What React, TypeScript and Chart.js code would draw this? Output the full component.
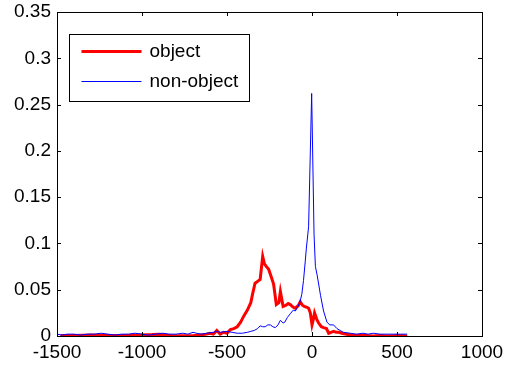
import React, { useEffect, useRef } from "react";
import { Chart, registerables } from "chart.js";

Chart.register(...registerables);

// ---- data ----
const objectX = [
  -1480, -1400, -1300, -1200, -1100, -1000, -940, -900, -860, -820, -760, -700,
  -660, -620, -600, -580, -560, -540, -520, -500, -480, -460, -440, -420, -400,
  -380, -360, -350, -335, -320, -305, -290, -280, -268, -255, -240, -226, -210,
  -195, -186, -170, -155, -140, -128, -110, -98, -80, -69, -55, -45, -30, -20,
  -10, 0, 8, 15, 28, 39, 55, 68, 85, 98, 112, 127, 142, 157, 176, 196, 230, 270,
  320, 360, 400, 450, 500, 560,
];
const objectY = [
  0.0005, 0.0005, 0.001, 0.0005, 0.0005, 0.001, 0.0015, 0.002, 0.001, 0.0003,
  0.0002, 0.0003, 0.001, 0.002, 0.003, 0.002, 0.006, 0.002, 0.004, 0.003, 0.007,
  0.008, 0.010, 0.015, 0.022, 0.028, 0.036, 0.045, 0.057, 0.059, 0.061, 0.086,
  0.078, 0.075, 0.072, 0.064, 0.056, 0.034, 0.036, 0.048, 0.032, 0.033, 0.035,
  0.034, 0.031, 0.030, 0.033, 0.037, 0.033, 0.032, 0.031, 0.030, 0.025, 0.012,
  0.018, 0.025, 0.018, 0.014, 0.010, 0.009, 0.008, 0.003, 0.004, 0.005, 0.004,
  0.004, 0.003, 0.002, 0.001, 0.0005, 0.0005, 0.0, 0.0005, 0.0, 0.0005, 0.0,
];

const nonObjectX = [
  -1500, -1470, -1440, -1400, -1360, -1320, -1280, -1240, -1200, -1160, -1120,
  -1080, -1040, -1000, -960, -920, -880, -840, -800, -760, -730, -700, -680,
  -650, -620, -580, -560, -540, -500, -470, -440, -410, -380, -360, -340, -320,
  -305, -290, -275, -260, -245, -230, -216, -200, -186, -170, -160, -145, -128,
  -110, -98, -85, -72, -60, -50, -40, -33, -20, -2, 12, 20, 30, 50, 68, 88, 104,
  127, 147, 165, 185, 225, 260, 300, 330, 360, 400, 440, 480, 520, 560,
];
const nonObjectY = [
  0.002, 0.001, 0.002, 0.002, 0.001, 0.002, 0.002, 0.003, 0.002, 0.001, 0.002,
  0.002, 0.003, 0.002, 0.001, 0.002, 0.003, 0.002, 0.002, 0.003, 0.002, 0.004,
  0.003, 0.002, 0.003, 0.004, 0.005, 0.004, 0.005, 0.004, 0.003, 0.003, 0.004,
  0.005, 0.006, 0.008, 0.011, 0.010, 0.010, 0.012, 0.012, 0.010, 0.009, 0.012,
  0.017, 0.014, 0.015, 0.020, 0.024, 0.028, 0.027, 0.031, 0.036, 0.045, 0.060,
  0.080, 0.095, 0.118, 0.262, 0.110, 0.075, 0.066, 0.044, 0.027, 0.015, 0.012,
  0.012, 0.008, 0.006, 0.004, 0.003, 0.002, 0.003, 0.002, 0.003, 0.002, 0.002,
  0.002, 0.002, 0.002,
];

const seriesNames = ["object", "non-object"];
const xTicks = [-1500, -1000, -500, 0, 500, 1000];
const yTicks = [0, 0.05, 0.1, 0.15, 0.2, 0.25, 0.3, 0.35];

const FONT = "'Liberation Sans', Arial, Helvetica, sans-serif";

const framePlugin = {
  id: "frameAndLegend",
  afterDraw(chart: any) {
    const { ctx, chartArea, scales } = chart;
    const { left, right, top, bottom } = chartArea;
    ctx.save();
    ctx.strokeStyle = "#000";
    ctx.lineWidth = 1;
    ctx.strokeRect(Math.round(left) + 0.5, Math.round(top) + 0.5, Math.round(right - left), Math.round(bottom - top));
    const tl = 4;
    ctx.beginPath();
    for (const v of xTicks) {
      const px = Math.round(scales.x.getPixelForValue(v)) + 0.5;
      ctx.moveTo(px, bottom);
      ctx.lineTo(px, bottom - tl);
      ctx.moveTo(px, top);
      ctx.lineTo(px, top + tl);
    }
    for (const v of yTicks) {
      const py = Math.round(scales.y.getPixelForValue(v)) + 0.5;
      ctx.moveTo(left, py);
      ctx.lineTo(left + tl, py);
      ctx.moveTo(right, py);
      ctx.lineTo(right - tl, py);
    }
    ctx.stroke();

    // legend
    const bx = Math.round(left) + 12.5;
    const by = Math.round(top) + 22.5;
    const bw = 180;
    const bh = 67;
    ctx.fillStyle = "#fff";
    ctx.fillRect(bx, by, bw, bh);
    ctx.strokeStyle = "#000";
    ctx.lineWidth = 1;
    ctx.strokeRect(bx, by, bw, bh);
    const ds = chart.data.datasets;
    const rows = [by + 17, by + 47];
    ctx.font = `19px ${FONT}`;
    ctx.textBaseline = "middle";
    ctx.textAlign = "left";
    rows.forEach((ry: number, i: number) => {
      ctx.beginPath();
      ctx.strokeStyle = ds[i].borderColor;
      ctx.lineWidth = ds[i].borderWidth;
      ctx.moveTo(bx + 12, ry);
      ctx.lineTo(bx + 72, ry);
      ctx.stroke();
      ctx.fillStyle = "#000";
      ctx.fillText(ds[i].label, bx + 80, ry);
    });
    ctx.restore();
  },
};

export default function App() {
  const ref = useRef<HTMLCanvasElement>(null);
  useEffect(() => {
    if (!ref.current) return;
    const chart = new Chart(ref.current, {
      type: "line",
      data: {
        datasets: [
          {
            label: seriesNames[0],
            data: objectX.map((x, i) => ({ x, y: objectY[i] })),
            borderColor: "#ff0000",
            borderWidth: 3,
            pointRadius: 0,
            tension: 0,
            order: 1,
          },
          {
            label: seriesNames[1],
            data: nonObjectX.map((x, i) => ({ x, y: nonObjectY[i] })),
            borderColor: "#0000ff",
            borderWidth: 1,
            pointRadius: 0,
            tension: 0,
            order: 0,
          },
        ],
      },
      options: {
        responsive: false,
        animation: false,
        layout: { padding: { top: 12, right: 30, left: 0, bottom: 0 } },
        plugins: { legend: { display: false }, tooltip: { enabled: false } },
        scales: {
          x: {
            type: "linear",
            min: -1500,
            max: 1000,
            afterBuildTicks: (s: any) => {
              s.ticks = xTicks.map((v) => ({ value: v }));
            },
            afterFit: (s: any) => {
              s.height = 31;
              s.paddingLeft = 0;
              s.paddingRight = 0;
              s.paddingTop = 0;
              s.paddingBottom = 0;
            },
            grid: { display: false, drawTicks: false },
            border: { display: false },
            ticks: {
              color: "#000",
              padding: 5,
              maxRotation: 0,
              autoSkip: false,
              font: { family: FONT, size: 19 },
              callback: (v: any) => String(v),
            },
          },
          y: {
            type: "linear",
            min: 0,
            max: 0.35,
            afterBuildTicks: (s: any) => {
              s.ticks = yTicks.map((v) => ({ value: v }));
            },
            afterFit: (s: any) => {
              s.width = 57;
              s.paddingLeft = 0;
              s.paddingRight = 0;
              s.paddingTop = 0;
              s.paddingBottom = 0;
            },
            grid: { display: false, drawTicks: false },
            border: { display: false },
            ticks: {
              color: "#000",
              padding: 6,
              autoSkip: false,
              font: { family: FONT, size: 19 },
              callback: (v: any) => String(+Number(v).toFixed(2)),
            },
          },
        },
      },
      plugins: [framePlugin],
    });
    return () => chart.destroy();
  }, []);
  return (
    <div style={{ position: "absolute", left: 0, top: 0, width: 512, height: 367, background: "#fff" }}>
      <canvas ref={ref} width={512} height={367} />
    </div>
  );
}
